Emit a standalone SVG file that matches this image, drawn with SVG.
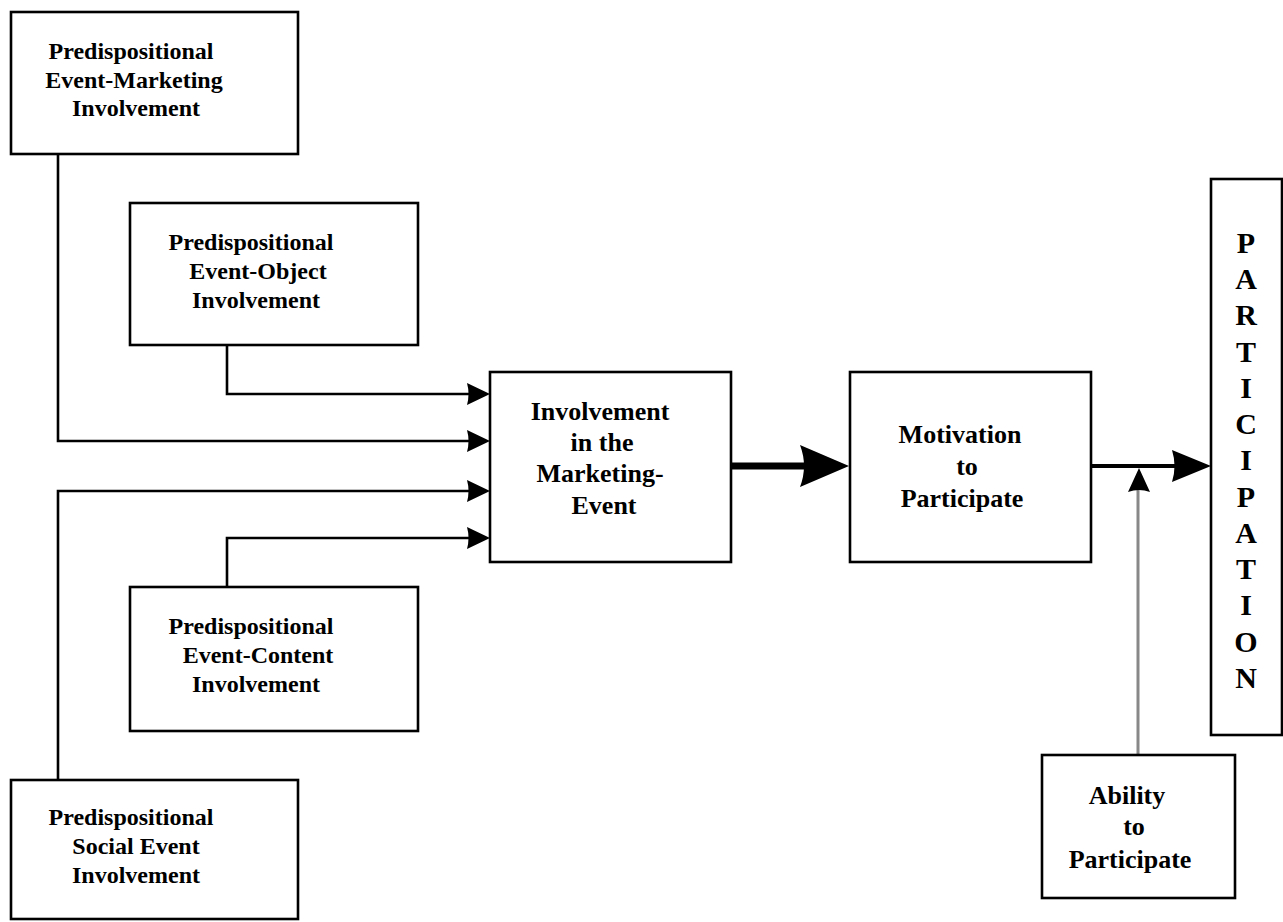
<svg xmlns="http://www.w3.org/2000/svg" width="1283" height="922" viewBox="0 0 1283 922">
<style>
.box{fill:#fff;stroke:#000;stroke-width:2.6}
.t{font-family:"Liberation Serif","Times New Roman",serif;font-weight:bold;font-size:24px;fill:#000;text-anchor:middle}
.b{font-size:26px}
.p{font-size:30px}
.c{fill:none;stroke:#000;stroke-width:2.6}
</style>
<rect width="1283" height="922" fill="#fff"/>
<g id="connectors">
<path class="c" d="M58,154 V441 H470"/>
<path class="c" d="M227,345 V394 H470"/>
<path class="c" d="M58,780 V491 H470"/>
<path class="c" d="M227,587 V538 H470"/>
<path d="M467,383 L490,394 L467,405 Q470,394 467,383Z"/>
<path d="M467,430 L490,441 L467,452 Q470,441 467,430Z"/>
<path d="M467,480 L490,491 L467,502 Q470,491 467,480Z"/>
<path d="M467,527 L490,538 L467,549 Q470,538 467,527Z"/>
<line x1="731" y1="466" x2="805" y2="466" stroke="#000" stroke-width="7"/>
<path d="M800,445 L849,466 L800,487 Q808,466 800,445Z"/>
<line x1="1091" y1="466" x2="1176" y2="466" stroke="#000" stroke-width="4"/>
<path d="M1172,450 L1211,466 L1172,482 Q1177,466 1172,450Z"/>
<line x1="1138" y1="755" x2="1138" y2="490" stroke="#888" stroke-width="3"/>
<path d="M1128,492 L1139,468 L1150,492 Q1139,488 1128,492Z"/>
</g>
<g id="n1">
<rect class="box" x="11" y="12" width="287" height="142"/>
<text class="t" x="131" y="59">Predispositional</text>
<text class="t" x="134" y="88">Event-Marketing</text>
<text class="t" x="136" y="116">Involvement</text>
</g>
<g id="n2">
<rect class="box" x="130" y="203" width="288" height="142"/>
<text class="t" x="251" y="250">Predispositional</text>
<text class="t" x="258" y="279">Event-Object</text>
<text class="t" x="256" y="308">Involvement</text>
</g>
<g id="n3">
<rect class="box" x="130" y="587" width="288" height="144"/>
<text class="t" x="251" y="634">Predispositional</text>
<text class="t" x="258" y="663">Event-Content</text>
<text class="t" x="256" y="692">Involvement</text>
</g>
<g id="n4">
<rect class="box" x="11" y="780" width="287" height="139"/>
<text class="t" x="131" y="825">Predispositional</text>
<text class="t" x="136" y="854">Social Event</text>
<text class="t" x="136" y="883">Involvement</text>
</g>
<g id="n5">
<rect class="box" x="490" y="372" width="241" height="190"/>
<text class="t b" x="600" y="420">Involvement</text>
<text class="t b" x="602" y="451">in the</text>
<text class="t b" x="600" y="482">Marketing-</text>
<text class="t b" x="604" y="514">Event</text>
</g>
<g id="n6">
<rect class="box" x="850" y="372" width="241" height="190"/>
<text class="t b" x="960" y="443">Motivation</text>
<text class="t b" x="967" y="475">to</text>
<text class="t b" x="962" y="507">Participate</text>
</g>
<g id="n7">
<rect class="box" x="1042" y="755" width="193" height="143"/>
<text class="t b" x="1127" y="804">Ability</text>
<text class="t b" x="1134" y="835">to</text>
<text class="t b" x="1130" y="868">Participate</text>
</g>
<g id="n8">
<rect class="box" x="1211" y="179" width="71" height="556"/>
<text class="t p" x="1246" y="253">P</text>
<text class="t p" x="1246" y="289">A</text>
<text class="t p" x="1246" y="325">R</text>
<text class="t p" x="1246" y="362">T</text>
<text class="t p" x="1246" y="398">I</text>
<text class="t p" x="1246" y="434">C</text>
<text class="t p" x="1246" y="470">I</text>
<text class="t p" x="1246" y="507">P</text>
<text class="t p" x="1246" y="543">A</text>
<text class="t p" x="1246" y="579">T</text>
<text class="t p" x="1246" y="615">I</text>
<text class="t p" x="1246" y="652">O</text>
<text class="t p" x="1246" y="688">N</text>
</g>
</svg>
